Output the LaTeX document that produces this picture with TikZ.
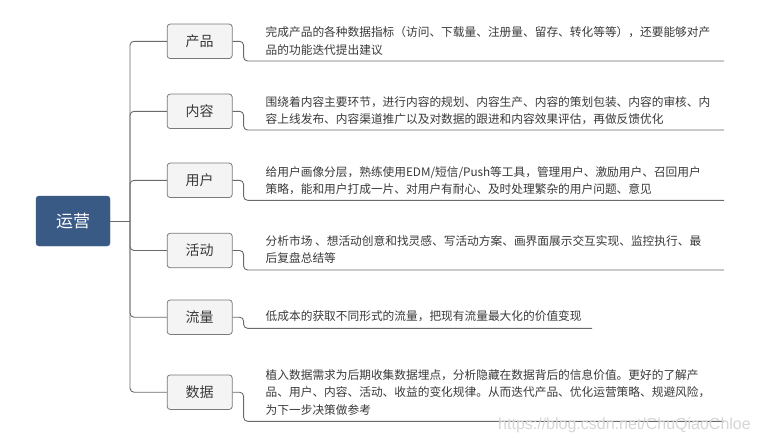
\documentclass[tikz,border=0pt]{standalone}
\usepackage{fontspec}
\setmainfont{Noto Sans CJK SC}
\newfontfamily\wmfont{Liberation Sans}
\definecolor{rootblue}{HTML}{3A5A86}
\definecolor{boxfill}{HTML}{F4F4F4}
\definecolor{boxline}{HTML}{7A7A7A}
\definecolor{linkgray}{HTML}{6A6A6A}
\definecolor{txtgray}{HTML}{3A3A3A}
\begin{document}
\begin{tikzpicture}[x=1pt,y=-1pt,
  rootbox/.style={draw=rootblue,fill=rootblue,rounded corners=3pt,minimum width=74pt,minimum height=50pt,text=white,font=\fontsize{17}{20}\selectfont,inner sep=0pt},
  childbox/.style={draw=boxline,fill=boxfill,rounded corners=3pt,minimum width=65pt,minimum height=34.5pt,text=txtgray,font=\fontsize{14}{16}\selectfont,inner sep=0pt,line width=0.8pt},
  desc/.style={anchor=north west,align=left,inner sep=0pt,text=txtgray,font=\fontsize{11.7}{17.3}\selectfont},
  link/.style={draw=linkgray,line width=0.9pt,rounded corners=4pt}]
\useasboundingbox (0,0) rectangle (759,442);
\fill[white] (0,0) rectangle (759,442);

\node[rootbox] (root) at (73,221) {运营};
\coordinate (t) at (130,221);

\node[childbox] (c1) at (199.7,41.3) {产品};
\node[childbox] (c2) at (199.7,111.3) {内容};
\node[childbox] (c3) at (199.7,180.3) {用户};
\node[childbox] (c4) at (199.7,250.5) {活动};
\node[childbox] (c5) at (199.7,317.2) {流量};
\node[childbox] (c6) at (199.7,392.2) {数据};

\draw[link] (root.east) -- (t);
\foreach \c in {c1,c2,c3,c4,c5,c6}{\draw[link] (t) |- (\c.west);}

\coordinate (u1) at (724,61);
\coordinate (u2) at (724,130);
\coordinate (u3) at (724,200.3);
\coordinate (u4) at (724,270);
\coordinate (u5) at (592,328.3);
\coordinate (u6) at (724,421.3);
\draw[link] (c1.east) -- ++(11,0) |- (u1);
\draw[link] (c2.east) -- ++(11,0) |- (u2);
\draw[link] (c3.east) -- ++(11,0) |- (u3);
\draw[link] (c4.east) -- ++(11,0) |- (u4);
\draw[link] (c5.east) -- ++(11,0) |- (u5);
\draw[link] (c6.east) -- ++(11,0) |- (u6);

\node[desc] (d1) at (265.5,26.5) {完成产品的各种数据指标（访问、下载量、注册量、留存、转化等等），还要能够对产\\品的功能迭代提出建议};
\node[desc] (d2) at (265.5,96.5) {围绕着内容主要环节，进行内容的规划、内容生产、内容的策划包装、内容的审核、内\\容上线发布、内容渠道推广以及对数据的跟进和内容效果评估，再做反馈优化};
\node[desc] (d3) at (265.5,166.2) {给用户画像分层，熟练使用EDM/短信/Push等工具，管理用户、激励用户、召回用户\\策略，能和用户打成一片、对用户有耐心、及时处理繁杂的用户问题、意见};
\node[desc] (d4) at (265.5,235.5) {分析市场 、想活动创意和找灵感、写活动方案、画界面展示交互实现、监控执行、最\\后复盘总结等};
\node[desc] (d5) at (265.5,310.5) {低成本的获取不同形式的流量，把现有流量最大化的价值变现};
\node[desc] (d6) at (265.5,369.5) {植入数据需求为后期收集数据埋点，分析隐藏在数据背后的信息价值。更好的了解产\\品、用户、内容、活动、收益的变化规律。从而迭代产品、优化运营策略、规避风险，\\为下一步决策做参考};

\node[anchor=west,inner sep=0pt,text=black!16,font=\wmfont\fontsize{16}{18}\selectfont] (wm) at (498,425) {https://blog.csdn.net/ChuQiaoChloe};
\end{tikzpicture}
\end{document}
